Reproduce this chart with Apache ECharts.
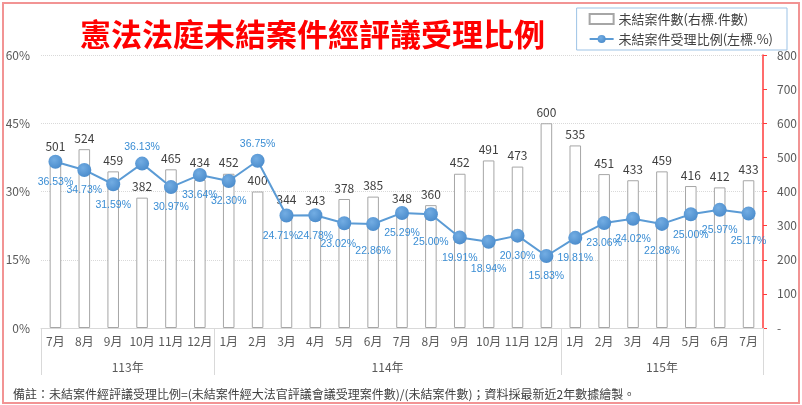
<!DOCTYPE html>
<html>
<head>
<meta charset="utf-8">
<title>憲法法庭未結案件經評議受理比例</title>
<script src="https://cdn.jsdelivr.net/npm/echarts@6/dist/echarts.min.js"></script>
<style>
    html, body { margin: 0; padding: 0; background: #fff; }
    #main { width: 802px; height: 405px; }
    #frame { position: absolute; left: 2px; top: 2px; width: 794px; height: 398px; border: 2px solid #F29494; pointer-events: none; }
</style>
</head>
<body>
<div id="main"></div>
<div id="frame"></div>
<script>
(function () {
    var chart = echarts.init(document.getElementById('main'));

    // 資料
    var months = ['7月', '8月', '9月', '10月', '11月', '12月',
        '1月', '2月', '3月', '4月', '5月', '6月', '7月', '8月', '9月', '10月', '11月', '12月',
        '1月', '2月', '3月', '4月', '5月', '6月', '7月'];
    var yearNames = ['113年', '114年', '115年'];
    var yearSpans = [6, 12, 7];
    var caseCount = [501, 524, 459, 382, 465, 434, 452, 400, 344, 343, 378, 385, 348, 360,
        452, 491, 473, 600, 535, 451, 433, 459, 416, 412, 433];
    var ratio = [36.53, 34.73, 31.59, 36.13, 30.97, 33.64, 32.30, 36.75, 24.71, 24.78, 23.02,
        22.86, 25.29, 25.00, 19.91, 18.94, 20.30, 15.83, 19.81, 23.06, 24.02, 22.88, 25.00, 25.97, 25.17];
    var leftTicks = { min: 0, max: 60, interval: 15 };
    var rightTicks = { min: 0, max: 800, interval: 100 };

    var barName = '未結案件數(右標.件數)';
    var lineName = '未結案件受理比例(左標.%)';
    var note = '備註：未結案件經評議受理比例=(未結案件經大法官評議會議受理案件數)/(未結案件數)；資料採最新近2年數據繪製。';

    // 標籤擺放微調（索引）
    var labelAbove = [3, 7];
    var labelLow = [11, 13, 15, 21, 24];
    var labelLeft = [8, 10];
    var barLabelHigh = [5];

    // 年份列：以半格為單位的刻度
    var halfSlots = [];
    var boundaries = {};
    var start = 0;
    for (var i = 0; i <= months.length * 2; i++) halfSlots.push('');
    for (var y = 0; y < yearNames.length; y++) {
        boundaries[start * 2] = true;
        halfSlots[start * 2 + yearSpans[y]] = yearNames[y];
        start += yearSpans[y];
    }
    boundaries[start * 2] = true;

    var lineData = ratio.map(function (v, idx) {
        if (labelAbove.indexOf(idx) >= 0) {
            return { value: v, label: { position: 'top', distance: 4 } };
        }
        if (labelLow.indexOf(idx) >= 0) {
            return { value: v, label: { distance: 15 } };
        }
        if (labelLeft.indexOf(idx) >= 0) {
            return { value: v, label: { offset: [-6, 0] } };
        }
        return v;
    });

    var barData = caseCount.map(function (v, idx) {
        if (barLabelHigh.indexOf(idx) >= 0) {
            return { value: v, label: { distance: 11 } };
        }
        return v;
    });

    var cjk = '"Noto Sans CJK TC", "Noto Sans", sans-serif';
    var latin = '"Liberation Sans", Arial, sans-serif';

    var option = {
        animation: false,
        textStyle: { fontFamily: cjk },
        title: {
            text: '憲法法庭未結案件經評議受理比例',
            left: 80,
            top: 19,
            padding: 0,
            textStyle: { fontSize: 31, fontWeight: 'bold', color: '#FF0000', fontFamily: cjk }
        },
        legend: {
            data: [{ name: barName, icon: 'rect' }, { name: lineName }],
            orient: 'vertical',
            right: 15,
            top: 8,
            borderColor: '#9DC3E6',
            borderWidth: 1,
            padding: [4, 14, 4, 12],
            itemWidth: 24,
            itemHeight: 10,
            itemGap: 6,
            textStyle: { fontSize: 13, color: '#404040', lineHeight: 14 }
        },
        grid: { left: 41, right: 39, top: 55, bottom: 77 },
        xAxis: [
            {
                type: 'category',
                data: months,
                axisLine: { lineStyle: { color: '#D9D9D9' } },
                axisTick: { show: false },
                axisLabel: { interval: 0, margin: 7, fontSize: 12, color: '#595959' }
            },
            {
                type: 'category',
                position: 'bottom',
                boundaryGap: false,
                data: halfSlots,
                axisLine: { show: false },
                axisTick: {
                    length: 47,
                    lineStyle: { color: '#D9D9D9' },
                    interval: function (idx) { return !!boundaries[idx]; }
                },
                axisLabel: {
                    margin: 33,
                    fontSize: 12,
                    color: '#595959',
                    interval: function (idx, val) { return val !== ''; }
                }
            }
        ],
        yAxis: [
            {
                type: 'value',
                min: leftTicks.min,
                max: leftTicks.max,
                interval: leftTicks.interval,
                axisLine: { show: false },
                axisTick: { show: false },
                axisLabel: { formatter: '{value}%', margin: 11, fontSize: 12, color: '#595959' },
                splitLine: { lineStyle: { color: '#D9D9D9', type: 'dotted' } }
            },
            {
                type: 'value',
                min: rightTicks.min,
                max: rightTicks.max,
                interval: rightTicks.interval,
                axisLine: { show: true, lineStyle: { color: '#FF3B3B', width: 1.5 } },
                axisTick: { show: true, length: 4, lineStyle: { color: '#FF3B3B' } },
                axisLabel: {
                    margin: 14,
                    fontSize: 12,
                    color: '#595959',
                    formatter: function (v) { return v === 0 ? '-' : v; }
                },
                splitLine: { show: false }
            }
        ],
        series: [
            {
                name: barName,
                type: 'bar',
                xAxisIndex: 0,
                yAxisIndex: 1,
                barWidth: '40%',
                data: barData,
                itemStyle: { color: '#FFFFFF', borderColor: '#A6A6A6', borderWidth: 1 },
                label: { show: true, position: 'top', distance: 5, fontSize: 12, color: '#404040' },
                z: 2
            },
            {
                name: lineName,
                type: 'line',
                xAxisIndex: 0,
                yAxisIndex: 0,
                data: lineData,
                symbol: 'circle',
                symbolSize: 14,
                lineStyle: { color: '#5B9BD5', width: 2 },
                itemStyle: {
                    color: new echarts.graphic.RadialGradient(0.4, 0.35, 0.7, [
                        { offset: 0, color: '#73ADE3' },
                        { offset: 1, color: '#4A8BCB' }
                    ])
                },
                label: {
                    show: true,
                    position: 'bottom',
                    distance: 8,
                    fontSize: 10.5,
                    fontFamily: latin,
                    color: '#3A8DD4',
                    formatter: function (p) { return p.value.toFixed(2) + '%'; }
                },
                z: 3
            }
        ],
        graphic: [
            {
                type: 'text',
                left: 13,
                bottom: 5,
                style: { text: note, font: '12px ' + cjk, fill: '#404040' }
            }
        ]
    };

    chart.setOption(option);
})();
</script>
</body>
</html>
